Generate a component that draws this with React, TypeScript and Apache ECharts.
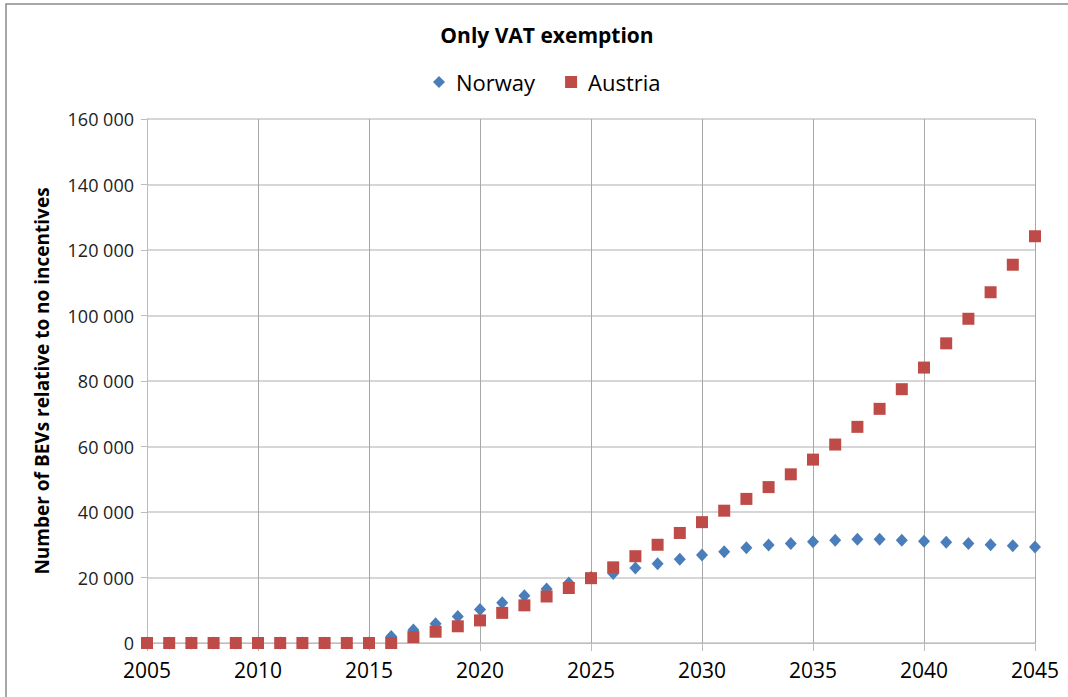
import React, { useEffect, useRef } from "react";
import * as echarts from "echarts";

const years = [
  2005, 2006, 2007, 2008, 2009, 2010, 2011, 2012, 2013, 2014, 2015, 2016, 2017, 2018, 2019, 2020, 2021,
  2022, 2023, 2024, 2025, 2026, 2027, 2028, 2029, 2030, 2031, 2032, 2033, 2034, 2035, 2036, 2037, 2038,
  2039, 2040, 2041, 2042, 2043, 2044, 2045,
];
const norway = [
  0, 0, 0, 0, 0, 0, 0, 0, 0, 0, 0, 2000, 4000, 5900, 8100, 10200, 12300, 14400, 16500, 18300, 20000,
  21200, 22900, 24200, 25600, 26900, 27900, 29100, 29900, 30400, 30900, 31400, 31700, 31700, 31400,
  31100, 30800, 30400, 30000, 29700, 29300,
];
const austria = [
  0, 0, 0, 0, 0, 0, 0, 0, 0, 0, 0, 0, 1800, 3450, 5100, 6900, 9200, 11500, 14200, 16800, 19800, 23100,
  26500, 30000, 33600, 36900, 40400, 44000, 47600, 51500, 56000, 60600, 66000, 71500, 77500, 84100,
  91500, 99000, 107100, 115500, 124200,
];
const seriesNames = ["Norway", "Austria"];
const titleText = "Only VAT exemption";
const yAxisName = "Number of BEVs relative to no incentives";

const FONT = "'Open Sans', 'Liberation Sans', sans-serif";

export default function App() {
  const ref = useRef<HTMLDivElement>(null);
  useEffect(() => {
    if (!ref.current) return;
    const chart = echarts.init(ref.current, null, { renderer: "svg" });
    chart.setOption({
      animation: false,
      backgroundColor: "#ffffff",
      title: {
        text: titleText,
        left: 542,
        textAlign: "center",
        top: 19,
        textStyle: { fontFamily: FONT, fontSize: 21, fontWeight: "bold", color: "#000" },
      },
      legend: {
        top: 66,
        left: 428,
        itemGap: 30,
        itemWidth: 12,
        itemHeight: 12,
        textStyle: { fontFamily: FONT, fontSize: 22, color: "#000", padding: [0, 0, 0, 6] },
        data: [
          { name: seriesNames[0], icon: "diamond" },
          { name: seriesNames[1], icon: "rect" },
        ],
      },
      graphic: [
        {
          type: "rect",
          shape: { x: 6, y: 4, width: 1200, height: 900 },
          style: { fill: "none", stroke: "#8a8a8a", lineWidth: 1.5 },
          silent: true,
        },
      ],
      grid: { left: 147, right: 33, top: 119, bottom: 54 },
      xAxis: {
        type: "value",
        min: 2005,
        max: 2045,
        interval: 5,
        axisLine: { show: true, lineStyle: { color: "#bdbdbd", width: 1 } },
        axisTick: { show: true, length: 8, lineStyle: { color: "#bdbdbd" } },
        axisLabel: {
          fontFamily: FONT,
          fontSize: 21,
          lineHeight: 21,
          color: "#000",
          margin: 16,
          formatter: (v: number) => String(v),
        },
        splitLine: { show: true, lineStyle: { color: "#a8a8a8", width: 1 } },
      },
      yAxis: {
        type: "value",
        min: 0,
        max: 160000,
        interval: 20000,
        name: yAxisName,
        nameLocation: "middle",
        nameGap: 96,
        nameTextStyle: { fontFamily: FONT, fontSize: 19, fontWeight: "bold", color: "#000" },
        axisLine: { show: true, lineStyle: { color: "#bdbdbd", width: 1 } },
        axisTick: { show: true, length: 6, lineStyle: { color: "#bdbdbd" } },
        axisLabel: {
          fontFamily: FONT,
          fontSize: 18,
          lineHeight: 14,
          color: "#222",
          margin: 13,
          formatter: (v: number) => String(v).replace(/\B(?=(\d{3})+(?!\d))/g, " "),
        },
        splitLine: { show: true, lineStyle: { color: "#c8c8c8", width: 1.5 } },
      },
      series: [
        {
          name: seriesNames[0],
          type: "scatter",
          symbol: "diamond",
          symbolSize: [12, 13],
          itemStyle: { color: "#4a7ebb", opacity: 1 },
          data: years.map((y, i) => [y, norway[i]]),
          z: 2,
        },
        {
          name: seriesNames[1],
          type: "scatter",
          symbol: "rect",
          symbolSize: 12,
          itemStyle: { color: "#be4b48", opacity: 1 },
          data: years.map((y, i) => [y, austria[i]]),
          z: 3,
        },
      ],
    });
    return () => chart.dispose();
  }, []);
  return (
    <div
      ref={ref}
      style={{ position: "absolute", left: 0, top: 0, width: 1068, height: 697 }}
    />
  );
}
